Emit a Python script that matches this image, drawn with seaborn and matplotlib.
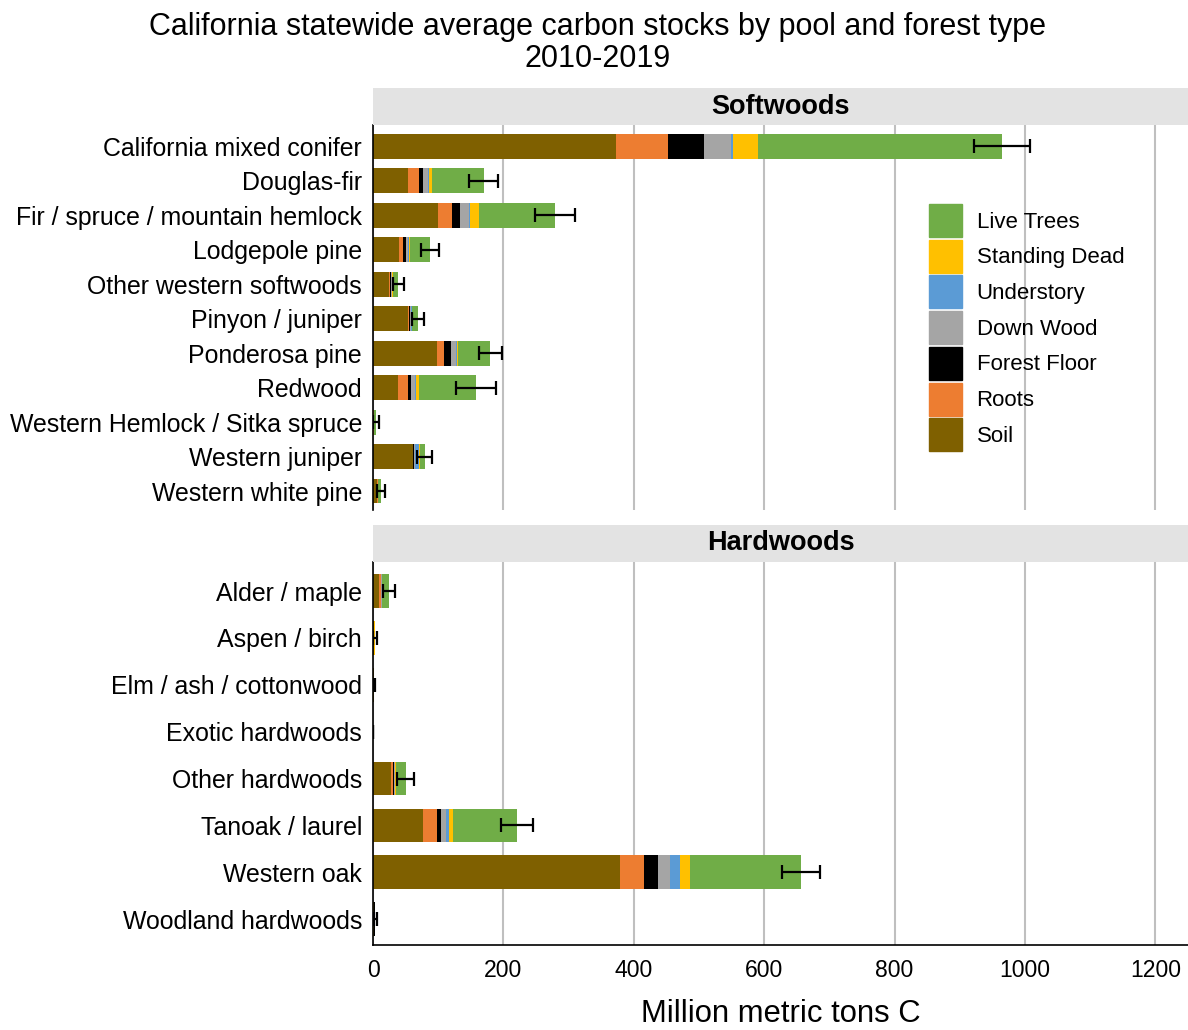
import numpy as np
import pandas as pd
import matplotlib
matplotlib.use("Agg")
import matplotlib.pyplot as plt
import matplotlib.patches as mpatches
import seaborn as sns

# Данные (млн метрических тонн C), прочитаны с исходного графика
pools = ["Soil", "Roots", "Forest Floor", "Down Wood", "Understory", "Standing Dead", "Live Trees"]
pool_colors = ["#7F6000", "#ED7D31", "#000000", "#A5A5A5", "#5B9BD5", "#FFC000", "#70AD47"]

soft_types = ["California mixed conifer", "Douglas-fir", "Fir / spruce / mountain hemlock",
              "Lodgepole pine", "Other western softwoods", "Pinyon / juniper", "Ponderosa pine",
              "Redwood", "Western Hemlock / Sitka spruce", "Western juniper", "Western white pine"]
soft_soil = [373, 54, 100, 40, 24, 53, 98, 38, 0.6, 61, 6.5]
soft_roots = [79, 17, 21, 6, 2, 2, 11, 16, 0.3, 1, 0.5]
soft_floor = [55, 5, 13, 4, 1.5, 1, 11, 4, 0.2, 1.6, 0.3]
soft_down = [42, 9, 14, 4, 1.5, 2.5, 7, 7, 0.2, 1.5, 0.5]
soft_under = [3, 1, 1, 0.5, 0.5, 1, 2, 1, 0.1, 6, 0.1]
soft_sdead = [39, 4, 14, 3, 0.5, 0.3, 1, 5, 0.1, 0.5, 0.3]
soft_live = [374, 80, 116, 30, 9, 9, 50, 87, 3, 7.5, 3.5]
soft_err = [43, 22, 31, 14, 9, 9, 18, 30, 4, 12, 6]

hard_types = ["Alder / maple", "Aspen / birch", "Elm / ash / cottonwood", "Exotic hardwoods",
              "Other hardwoods", "Tanoak / laurel", "Western oak", "Woodland hardwoods"]
hard_soil = [9.5, 1.5, 0.8, 0.05, 27, 77, 379, 2]
hard_roots = [2.5, 0.3, 0.2, 0.0, 4, 21, 37, 0.3]
hard_floor = [0.5, 0.2, 0.1, 0.0, 1, 7, 21, 0.2]
hard_down = [0.8, 0.2, 0.1, 0.0, 2, 7, 18, 0.1]
hard_under = [0.3, 0.1, 0.05, 0.0, 0.5, 5, 16, 0.05]
hard_sdead = [0.4, 0.05, 0.05, 0.0, 0.5, 5, 15, 0.05]
hard_live = [10.5, 1.2, 0.5, 0.05, 15, 99, 171, 0.8]
hard_err = [9, 3, 2, 0, 13, 25, 29, 2]

sns.set_style("white")
plt.rcParams['font.family'] = ['Liberation Sans', 'DejaVu Sans']
plt.rcParams['text.color'] = 'black'
plt.rcParams['xtick.color'] = 'black'
plt.rcParams['ytick.color'] = 'black'
plt.rcParams['axes.labelcolor'] = 'black'

fig = plt.figure(figsize=(11.88, 10.3), dpi=100)

L, W = 373 / 1188, 815 / 1188
ax_top = fig.add_axes([L, 1 - 510 / 1030, W, 385 / 1030])
ax_bot = fig.add_axes([L, 1 - 945 / 1030, W, 383 / 1030])
strip_top = fig.add_axes([L, 1 - 125 / 1030, W, 37 / 1030])
strip_bot = fig.add_axes([L, 1 - 562 / 1030, W, 37 / 1030])


def draw_panel(ax, types, layers, errs):
    df = pd.DataFrame(dict(zip(pools, layers)), index=types)
    cum = df.cumsum(axis=1)
    # рисуем накопленные суммы от большей к меньшей, чтобы получить стек
    for pool, col in reversed(list(zip(pools, pool_colors))):
        sns.barplot(x=cum[pool].values, y=types, color=col, orient="h", width=0.72,
                    saturation=1, errorbar=None, linewidth=0, ax=ax)
    totals = cum[pools[-1]].values
    ax.errorbar(totals, np.arange(len(types)), xerr=errs, fmt="none", ecolor="black",
                elinewidth=1.6, capsize=5, capthick=1.6, zorder=5)
    n = len(types)
    ax.set_ylim(n - 0.45, -0.62)
    ax.set_xlim(0, 1250)
    ax.set_xticks([0, 200, 400, 600, 800, 1000, 1200])
    ax.xaxis.grid(True, color="#BFBFBF", linewidth=1.5)
    ax.set_axisbelow(True)
    ax.set_xlabel("")
    ax.set_ylabel("")
    ax.tick_params(axis="y", labelsize=17.9, length=0, pad=8)
    ax.tick_params(axis="x", length=0)
    for s in ["top", "right"]:
        ax.spines[s].set_visible(False)
    ax.spines["left"].set_color("black")
    ax.spines["left"].set_linewidth(1.2)


draw_panel(ax_top, soft_types,
           [soft_soil, soft_roots, soft_floor, soft_down, soft_under, soft_sdead, soft_live], soft_err)
draw_panel(ax_bot, hard_types,
           [hard_soil, hard_roots, hard_floor, hard_down, hard_under, hard_sdead, hard_live], hard_err)

ax_top.spines["bottom"].set_visible(False)
ax_top.set_xticklabels([])
ax_bot.spines["bottom"].set_color("black")
ax_bot.spines["bottom"].set_linewidth(1.2)
ax_bot.tick_params(axis="x", labelsize=16.6, pad=10)
ax_bot.set_xlabel("Million metric tons C", fontsize=22.3, labelpad=12)

for sax, name in [(strip_top, "Softwoods"), (strip_bot, "Hardwoods")]:
    sax.set_facecolor("#E3E3E3")
    sax.set_xticks([])
    sax.set_yticks([])
    for s in sax.spines.values():
        s.set_visible(False)
    sax.text(0.5, 0.5, name, ha="center", va="center", fontsize=19.5, fontweight="bold",
             transform=sax.transAxes)

fig.text(0.503, 1 - 12 / 1030, "California statewide average carbon stocks by pool and forest type\n2010-2019",
         ha="center", va="top", fontsize=22, linespacing=1.1)

handles = [mpatches.Patch(color=c, label=p) for p, c in reversed(list(zip(pools, pool_colors)))]
fig.legend(handles=handles, loc="upper left", bbox_to_anchor=(929 / 1188, 1 - 204 / 1030),
           frameon=False, fontsize=16, handlelength=1.49, handleheight=1.91,
           labelspacing=0.12, handletextpad=0.65, borderpad=0, borderaxespad=0)

fig.savefig("out.png", dpi=100)
